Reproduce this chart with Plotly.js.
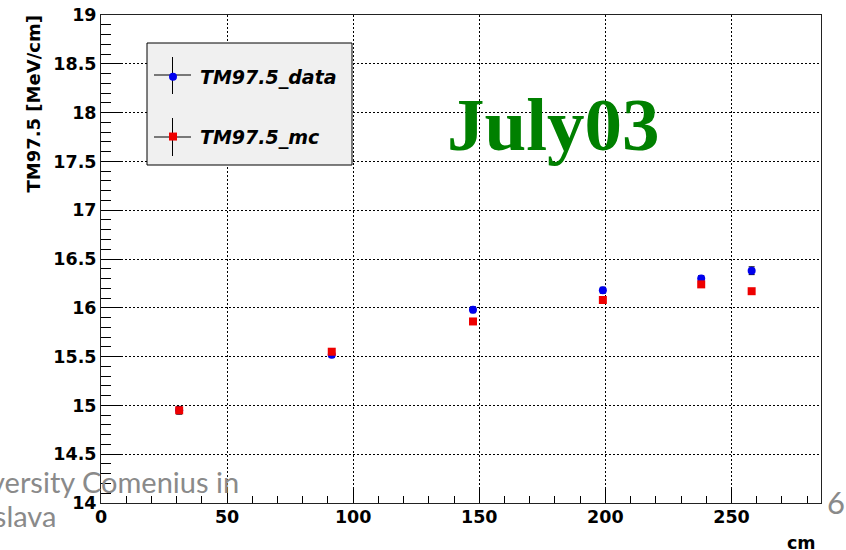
<!DOCTYPE html>
<html>
<head>
<meta charset="utf-8">
<script src="https://cdn.plot.ly/plotly-3.0.1.min.js"></script>
<style>html,body{margin:0;padding:0;background:#fff;}#chart{width:846px;height:550px;}</style>
</head>
<body>
<div id="chart"></div>
<script>
// ---- data ----
const positions = [31, 91.5, 147.5, 199, 238, 258];           // cm
const dataValues = [14.95, 15.52, 15.98, 16.18, 16.30, 16.38]; // TM97.5_data
const dataErrors = [0.04, 0.03, 0.03, 0.03, 0.03, 0.04];
const mcValues = [14.95, 15.55, 15.86, 16.08, 16.24, 16.17];   // TM97.5_mc
const mcErrors = [0.03, 0.02, 0.02, 0.02, 0.02, 0.02];
const seriesNames = ["TM97.5_data", "TM97.5_mc"];
const yTitle = "TM97.5 [MeV/cm]";
const xTitle = "cm";
const stamp = "July03";

// plot-area pixel geometry
const L = 101, R = 821, T = 15, B = 503;
const px = x => (x - L) / (R - L);
const py = y => (B - y) / (B - T);

const tickFont = {family: "DejaVu Sans", size: 17.5, color: "#000", weight: "bold"};

const traces = [
  {
    x: positions, y: dataValues, name: seriesNames[0], type: "scatter", mode: "markers",
    marker: {symbol: "circle", size: 8, color: "#0000ee"},
    error_y: {type: "data", array: dataErrors, color: "#000", thickness: 1, width: 3},
    legendgroup: "a"
  },
  {
    x: positions, y: mcValues, name: seriesNames[1], type: "scatter", mode: "markers",
    marker: {symbol: "square", size: 8, color: "#ee0000"},
    error_y: {type: "data", array: mcErrors, color: "#000", thickness: 1, width: 3},
    legendgroup: "b"
  }
];

const axisCommon = {
  showline: true, linecolor: "#222", linewidth: 1, mirror: true,
  showgrid: true, gridcolor: "#000", gridwidth: 1, griddash: "2px,2px",
  ticks: "inside", tickcolor: "#000", tickwidth: 1,
  tickfont: tickFont, zeroline: false
};

const layout = {
  width: 846, height: 550,
  margin: {l: L, r: 846 - R, t: T, b: 550 - B},
  paper_bgcolor: "#fff", plot_bgcolor: "#fff",
  showlegend: true,
  legend: {
    x: px(146), y: py(58), xanchor: "left", yanchor: "top",
    bgcolor: "rgba(0,0,0,0)", borderwidth: 0,
    font: {family: "DejaVu Sans", size: 19, color: "#000", weight: "bold", style: "italic"},
    tracegroupgap: 32, itemwidth: 44
  },
  xaxis: Object.assign({}, axisCommon, {
    range: [0, 285.5], dtick: 50, tick0: 0, ticklen: 15, ticklabelstandoff: -2,
    minor: {dtick: 10, ticklen: 7, ticks: "inside", tickcolor: "#000", showgrid: false}
  }),
  yaxis: Object.assign({}, axisCommon, {
    range: [14, 19], dtick: 0.5, tick0: 14, ticklen: 21,
    minor: {dtick: 0.1, ticklen: 10, ticks: "inside", tickcolor: "#000", showgrid: false}
  }),
  shapes: [
    {type: "rect", xref: "paper", yref: "paper", x0: px(147), x1: px(352), y0: py(165), y1: py(43),
     fillcolor: "#f0f0f0", line: {color: "#000", width: 1}, layer: "above"},
    {type: "line", xref: "paper", yref: "paper", x0: px(154), x1: px(191), y0: py(75), y1: py(75), line: {color: "#000", width: 1}, layer: "above"},
    {type: "line", xref: "paper", yref: "paper", x0: px(172.5), x1: px(172.5), y0: py(57), y1: py(94), line: {color: "#000", width: 1}, layer: "above"},
    {type: "line", xref: "paper", yref: "paper", x0: px(154), x1: px(191), y0: py(137), y1: py(137), line: {color: "#000", width: 1}, layer: "above"},
    {type: "line", xref: "paper", yref: "paper", x0: px(172.5), x1: px(172.5), y0: py(118), y1: py(156), line: {color: "#000", width: 1}, layer: "above"}
  ],
  annotations: [
    {text: yTitle, xref: "paper", yref: "paper", x: px(33), y: py(14), xanchor: "center", yanchor: "top",
     textangle: -90, showarrow: false, font: {family: "DejaVu Sans", size: 18, color: "#000", weight: "bold"}},
    {text: xTitle, xref: "paper", yref: "paper", x: px(818), y: py(543), xanchor: "right", yanchor: "middle",
     showarrow: false, font: {family: "DejaVu Sans", size: 17.5, color: "#000", weight: "bold"}},
    {text: stamp, xref: "paper", yref: "paper", x: px(553), y: py(124), xanchor: "center", yanchor: "middle",
     showarrow: false, font: {family: "Liberation Serif", size: 75, color: "#008000", weight: "bold"}},
    {text: "University Comenius in", xref: "paper", yref: "paper", x: px(241), y: py(481), xanchor: "right", yanchor: "middle",
     showarrow: false, font: {family: "Lato", size: 29, color: "#8a8a8a"}},
    {text: "Bratislava", xref: "paper", yref: "paper", x: px(58), y: py(515), xanchor: "right", yanchor: "middle",
     showarrow: false, font: {family: "Lato", size: 29, color: "#8a8a8a"}},
    {text: "6", xref: "paper", yref: "paper", x: px(825), y: py(502), xanchor: "left", yanchor: "middle",
     showarrow: false, font: {family: "Lato", size: 31, color: "#8a8a8a"}}
  ]
};

Plotly.newPlot("chart", traces, layout, {displayModeBar: false, staticPlot: true});
</script>
</body>
</html>
